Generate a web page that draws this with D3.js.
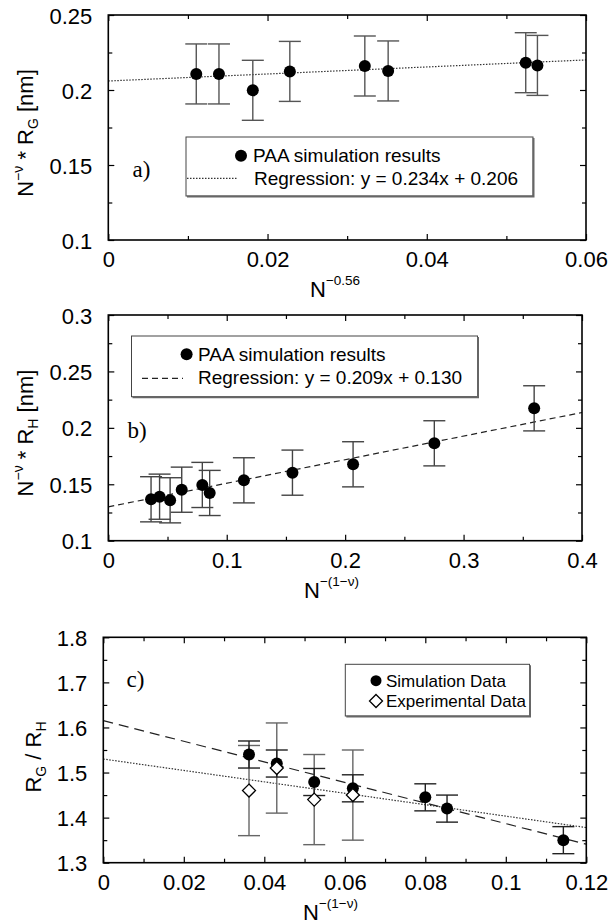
<!DOCTYPE html>
<html>
<head>
<meta charset="utf-8">
<script src="https://cdn.jsdelivr.net/npm/d3@7"></script>
<style>
  html, body { margin: 0; padding: 0; background: #fff; }
  svg { display: block; }
  text { font-family: "Liberation Sans", Arial, sans-serif; fill: #000; }
</style>
</head>
<body>
<svg id="chart" width="610" height="924"></svg>
<script>
// ---------- Panel a data ----------
const aX   = [0.01105, 0.0139, 0.01815, 0.0228, 0.03222, 0.03515, 0.05243, 0.0539];
const aY   = [0.2107, 0.2107, 0.1998, 0.2124, 0.216, 0.2127, 0.2182, 0.2164];
const aErr = [0.02, 0.02, 0.02, 0.02, 0.02, 0.02, 0.02, 0.02];
const aFit = [0.234, 0.206];            // slope, intercept
const aXTicks = [0, 0.02, 0.04, 0.06];
const aYTicks = [0.1, 0.15, 0.2, 0.25];
const aXMinor = [0.01, 0.03, 0.05];
const aYMinor = [0.125, 0.175, 0.225];

// ---------- Panel b data ----------
const bX   = [0.0361, 0.0433, 0.0522, 0.062, 0.0794, 0.0856, 0.1145, 0.1555, 0.2067, 0.2753, 0.3596];
const bY   = [0.1367, 0.139, 0.1358, 0.1452, 0.1494, 0.1423, 0.1535, 0.1603, 0.1677, 0.1863, 0.2173];
const bErr = [0.02, 0.02, 0.02, 0.02, 0.02, 0.02, 0.02, 0.02, 0.02, 0.02, 0.02];
const bFit = [0.209, 0.130];
const bXTicks = [0, 0.1, 0.2, 0.3, 0.4];
const bYTicks = [0.1, 0.15, 0.2, 0.25, 0.3];
const bXMinor = [0.05, 0.15, 0.25, 0.35];
const bYMinor = [0.125, 0.175, 0.225, 0.275];

// ---------- Panel c data ----------
const cSimX   = [0.0362, 0.0431, 0.0524, 0.062, 0.080, 0.0854, 0.1143];
const cSimY   = [1.54, 1.52, 1.479, 1.465, 1.445, 1.42, 1.35];
const cSimErr = [0.03, 0.03, 0.03, 0.03, 0.03, 0.03, 0.03];
const cExpX   = [0.0362, 0.0431, 0.0524, 0.062];
const cExpY   = [1.46, 1.51, 1.44, 1.45];
const cExpErr = [0.1, 0.1, 0.1, 0.1];
const cSimFit = [-2.283, 1.615];
const cExpFit = [-1.267, 1.53];
const cXTicks = [0, 0.02, 0.04, 0.06, 0.08, 0.1, 0.12];
const cYTicks = [1.3, 1.4, 1.5, 1.6, 1.7, 1.8];
const cXMinor = [0.01, 0.03, 0.05, 0.07, 0.09, 0.11];
const cYMinor = [1.35, 1.45, 1.55, 1.65, 1.75];

const svg = d3.select("#chart");
const fmt = d3.format("~g");

function frame(p) {
  const g = svg.append("g");
  const x = d3.scaleLinear().domain(p.xd).range([p.l, p.r]);
  const y = d3.scaleLinear().domain(p.yd).range([p.b, p.t]);

  const ax = g.append("g").attr("transform", `translate(0,${p.b})`)
    .call(d3.axisBottom(x).tickValues(p.xt).tickFormat(fmt).tickSizeInner(-6).tickSizeOuter(0).tickPadding(11.5));
  const ay = g.append("g").attr("transform", `translate(${p.l},0)`)
    .call(d3.axisLeft(y).tickValues(p.yt).tickFormat(fmt).tickSizeInner(-6).tickSizeOuter(0).tickPadding(16));
  ax.selectAll("text").style("font-size", "22px").attr("font-family", "Liberation Sans, Arial, sans-serif");
  ay.selectAll("text").style("font-size", "22px").attr("dy", "0.37em").attr("font-family", "Liberation Sans, Arial, sans-serif");
  g.append("g").attr("transform", `translate(0,${p.t})`)
    .call(d3.axisTop(x).tickValues(p.xt).tickFormat("").tickSizeInner(-6).tickSizeOuter(0));
  g.append("g").attr("transform", `translate(${p.r},0)`)
    .call(d3.axisRight(y).tickValues(p.yt).tickFormat("").tickSizeInner(-6).tickSizeOuter(0));
  g.append("g").attr("transform", `translate(0,${p.b})`)
    .call(d3.axisBottom(x).tickValues(p.xm).tickFormat("").tickSizeInner(-4).tickSizeOuter(0));
  g.append("g").attr("transform", `translate(0,${p.t})`)
    .call(d3.axisTop(x).tickValues(p.xm).tickFormat("").tickSizeInner(-4).tickSizeOuter(0));
  g.append("g").attr("transform", `translate(${p.l},0)`)
    .call(d3.axisLeft(y).tickValues(p.ym).tickFormat("").tickSizeInner(-4).tickSizeOuter(0));
  g.append("g").attr("transform", `translate(${p.r},0)`)
    .call(d3.axisRight(y).tickValues(p.ym).tickFormat("").tickSizeInner(-4).tickSizeOuter(0));
  g.selectAll(".domain").remove();
  g.selectAll(".tick line").attr("stroke", "#000").attr("stroke-width", 1.2);

  return { g, x, y };
}

function border(p) {
  svg.append("rect").attr("x", p.l).attr("y", p.t).attr("width", p.r - p.l).attr("height", p.b - p.t)
    .attr("fill", "none").attr("stroke", "#000").attr("stroke-width", 1.6);
}

function fitLine(g, x, y, fit, dash, color) {
  const xd = x.domain();
  g.append("line")
    .attr("x1", x(xd[0])).attr("y1", y(fit[0] * xd[0] + fit[1]))
    .attr("x2", x(xd[1])).attr("y2", y(fit[0] * xd[1] + fit[1]))
    .attr("stroke", color).attr("stroke-width", 1.2).attr("stroke-dasharray", dash);
}

function errBars(g, x, y, xs, ys, es, color) {
  const cap = 11;
  xs.forEach((xv, i) => {
    const cx = x(xv), y1 = y(ys[i] + es[i]), y2 = y(ys[i] - es[i]);
    g.append("line").attr("x1", cx).attr("x2", cx).attr("y1", y1).attr("y2", y2)
      .attr("stroke", color).attr("stroke-width", 1.4);
    [y1, y2].forEach(yy => g.append("line").attr("x1", cx - cap).attr("x2", cx + cap)
      .attr("y1", yy).attr("y2", yy).attr("stroke", color).attr("stroke-width", 1.4));
  });
}

function dots(g, x, y, xs, ys) {
  g.selectAll(null).data(xs.map((v, i) => [v, ys[i]])).enter().append("circle")
    .attr("cx", d => x(d[0])).attr("cy", d => y(d[1])).attr("r", 6).attr("fill", "#000");
}

function diamonds(g, x, y, xs, ys) {
  const s = 6.5;
  g.selectAll(null).data(xs.map((v, i) => [v, ys[i]])).enter().append("path")
    .attr("d", d => { const cx = x(d[0]), cy = y(d[1]);
      return `M${cx},${cy - s}L${cx + s},${cy}L${cx},${cy + s}L${cx - s},${cy}Z`; })
    .attr("fill", "#fff").attr("stroke", "#000").attr("stroke-width", 1.3);
}

function legendBox(x1, y1, x2, y2) {
  svg.append("rect").attr("x", x1).attr("y", y1).attr("width", x2 - x1).attr("height", y2 - y1)
    .attr("fill", "#fff").attr("stroke", "#444").attr("stroke-width", 1);
  svg.append("path").attr("d", `M${x2 + 0.5},${y1 + 1}L${x2 + 0.5},${y2 + 0.5}L${x1 + 1},${y2 + 0.5}`)
    .attr("fill", "none").attr("stroke", "#666").attr("stroke-width", 2);
}

function xTitle(xpos, ypos, sup) {
  const t = svg.append("text").attr("x", xpos).attr("y", ypos).style("font-size", "22px");
  t.append("tspan").text("N");
  t.append("tspan").attr("dy", -12).style("font-size", "13.5px").text(sup);
}

function yTitle(xpos, ypos, parts) {
  const t = svg.append("text").attr("transform", `translate(${xpos},${ypos}) rotate(-90)`)
    .attr("text-anchor", "middle").style("font-size", "22px");
  parts.forEach(p => {
    const s = t.append("tspan").text(p.t);
    if (p.dy) s.attr("dy", p.dy);
    if (p.small) s.style("font-size", "14px");
  });
}

function panelLabel(xpos, ypos, txt) {
  svg.append("text").attr("x", xpos).attr("y", ypos).text(txt)
    .style("font-family", "Liberation Serif, Times New Roman, serif").style("font-size", "23px");
}

// ================= Panel a =================
{
  const p = { l: 108.3, r: 586, t: 15, b: 240, xd: [0, 0.06], yd: [0.1, 0.25],
              xt: aXTicks, yt: aYTicks, xm: aXMinor, ym: aYMinor };
  const { g, x, y } = frame(p);
  fitLine(g, x, y, aFit, "1.5,1.5", "#333");
  errBars(g, x, y, aX, aY, aErr, "#555");
  dots(g, x, y, aX, aY);
  border(p);
  legendBox(186, 137, 533, 196);
  svg.append("circle").attr("cx", 241).attr("cy", 155.7).attr("r", 6).attr("fill", "#000");
  svg.append("text").attr("x", 253).attr("y", 161.7).style("font-size", "19px").text("PAA simulation results");
  svg.append("line").attr("x1", 187).attr("x2", 237).attr("y1", 178.3).attr("y2", 178.3)
    .attr("stroke", "#333").attr("stroke-width", 1.2).attr("stroke-dasharray", "1.5,1.5");
  svg.append("text").attr("x", 254).attr("y", 185).style("font-size", "19px").text("Regression: y = 0.234x + 0.206");
  panelLabel(132.5, 176.5, "a)");
  xTitle(310, 297, "−0.56");
  yTitle(33, 133, [{ t: "N" }, { t: "−ν", dy: -10, small: true }, { t: " * R", dy: 10 },
                   { t: "G", dy: 5, small: true }, { t: " [nm]", dy: -5 }]);
}

// ================= Panel b =================
{
  const p = { l: 108.3, r: 582, t: 315, b: 540.7, xd: [0, 0.4], yd: [0.1, 0.3],
              xt: bXTicks, yt: bYTicks, xm: bXMinor, ym: bYMinor };
  const { g, x, y } = frame(p);
  fitLine(g, x, y, bFit, "6,4", "#222");
  errBars(g, x, y, bX, bY, bErr, "#444");
  dots(g, x, y, bX, bY);
  border(p);
  legendBox(131.5, 336, 477.5, 396.7);
  svg.append("circle").attr("cx", 186.6).attr("cy", 354.3).attr("r", 6).attr("fill", "#000");
  svg.append("text").attr("x", 198).attr("y", 360.5).style("font-size", "19px").text("PAA simulation results");
  svg.append("line").attr("x1", 142).attr("x2", 183).attr("y1", 378.3).attr("y2", 378.3)
    .attr("stroke", "#222").attr("stroke-width", 1.2).attr("stroke-dasharray", "6,4");
  svg.append("text").attr("x", 198).attr("y", 384).style("font-size", "19px").text("Regression: y = 0.209x + 0.130");
  panelLabel(127.5, 438, "b)");
  xTitle(304, 598, "−(1−ν)");
  yTitle(33, 433, [{ t: "N" }, { t: "−ν", dy: -10, small: true }, { t: " * R", dy: 10 },
                   { t: "H", dy: 5, small: true }, { t: " [nm]", dy: -5 }]);
}

// ================= Panel c =================
{
  const p = { l: 103.3, r: 586.3, t: 637.3, b: 862.7, xd: [0, 0.12], yd: [1.3, 1.8],
              xt: cXTicks, yt: cYTicks, xm: cXMinor, ym: cYMinor };
  const { g, x, y } = frame(p);
  fitLine(g, x, y, cSimFit, "10,6", "#222");
  fitLine(g, x, y, cExpFit, "1.5,1.5", "#333");
  errBars(g, x, y, cExpX, cExpY, cExpErr, "#666");
  errBars(g, x, y, cSimX, cSimY, cSimErr, "#222");
  dots(g, x, y, cSimX, cSimY);
  diamonds(g, x, y, cExpX, cExpY);
  border(p);
  legendBox(345.3, 664.3, 529.5, 716);
  svg.append("circle").attr("cx", 376).attr("cy", 680.7).attr("r", 5.5).attr("fill", "#000");
  svg.append("text").attr("x", 386).attr("y", 686.5).style("font-size", "17px").text("Simulation Data");
  svg.append("path").attr("d", "M376,694.5L382.5,701L376,707.5L369.5,701Z")
    .attr("fill", "#fff").attr("stroke", "#000").attr("stroke-width", 1.3);
  svg.append("text").attr("x", 386).attr("y", 707).style("font-size", "17px").text("Experimental Data");
  panelLabel(126.5, 687, "c)");
  xTitle(303, 919.5, "−(1−ν)");
  yTitle(41, 757, [{ t: "R" }, { t: "G", dy: 5, small: true }, { t: " / R", dy: -5 },
                   { t: "H", dy: 5, small: true }]);
}
</script>
</body>
</html>
